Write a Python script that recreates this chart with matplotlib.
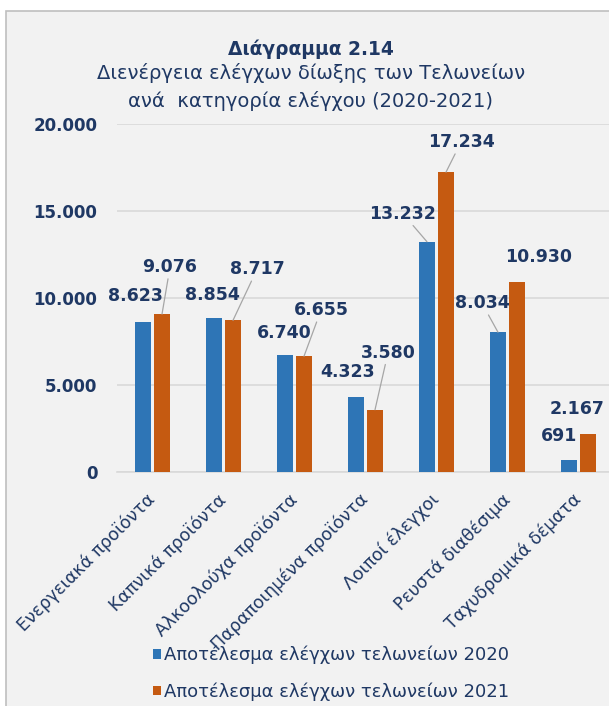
import matplotlib
matplotlib.use("Agg")
import matplotlib.pyplot as plt
from matplotlib.patches import Rectangle

categories = [
    "Ενεργειακά προϊόντα",
    "Καπνικά προϊόντα",
    "Αλκοολούχα προϊόντα",
    "Παραποιημένα προϊόντα",
    "Λοιποί έλεγχοι",
    "Ρευστά διαθέσιμα",
    "Ταχυδρομικά δέματα",
]
values_2020 = [8623, 8854, 6740, 4323, 13232, 8034, 691]
values_2021 = [9076, 8717, 6655, 3580, 17234, 10930, 2167]
yticks = [0, 5000, 10000, 15000, 20000]
series_names = [
    "Αποτέλεσμα ελέγχων τελωνείων 2020",
    "Αποτέλεσμα ελέγχων τελωνείων 2021",
]
title_lines = [
    "Διάγραμμα 2.14",
    "Διενέργεια ελέγχων δίωξης των Τελωνείων",
    "ανά  κατηγορία ελέγχου (2020-2021)",
]

# label offsets from bar top (pixels, right / up) and whether a leader line is drawn
offsets_2020 = [(-8, 26), (-2, 23), (-1, 22), (-8, 25), (-24, 28), (-16, 29), (-10, 24)]
leaders_2020 = [False, False, False, False, True, True, False]
offsets_2021 = [(8, 47), (24, 51), (17, 46), (13, 57), (15, 30), (22, 25), (-11, 25)]
leaders_2021 = [True, True, True, True, True, False, False]

BLUE = "#2e75b6"
ORANGE = "#c55a11"
NAVY = "#1f3864"
GRID = "#d9d9d9"
W, H = 609, 706

fig = plt.figure(figsize=(W / 100, H / 100), dpi=100)
fig.patch.set_facecolor("white")
fig.patches.append(Rectangle((6 / W, -0.05), 1.1, 1 - 11 / H + 0.05,
                             transform=fig.transFigure, facecolor="#f2f2f2",
                             edgecolor="#bfbfbf", linewidth=1.2, zorder=-10))

ax = fig.add_axes([117 / W, 1 - 472 / H, 497 / W, 348 / H])
ax.set_facecolor("none")

x = list(range(len(categories)))
width = 0.225
off = 0.134
bars1 = ax.bar([i - off for i in x], values_2020, width, color=BLUE, label=series_names[0], zorder=3)
bars2 = ax.bar([i + off for i in x], values_2021, width, color=ORANGE, label=series_names[1], zorder=3)

ax.set_xlim(-0.5, len(categories) - 0.5)
ax.set_ylim(0, 20000)
ax.set_yticks(yticks)
ax.set_yticklabels([f"{v:,}".replace(",", ".") for v in yticks],
                   fontsize=12, fontweight="bold", color=NAVY)
ax.yaxis.grid(True, color=GRID, linewidth=1.2, zorder=0)
ax.tick_params(axis="y", length=0, pad=14)
ax.set_xticks(x)
ax.set_xticklabels(categories, rotation=45, ha="right", va="center",
                   rotation_mode="anchor", fontsize=12.5, color=NAVY)
ax.tick_params(axis="x", length=0, pad=18)
for side in ["top", "right", "left"]:
    ax.spines[side].set_visible(False)
ax.spines["bottom"].set_color(GRID)
ax.spines["bottom"].set_linewidth(1.2)


def label_bars(bars, values, offsets, leaders):
    for bar, v, (dx, dy), lead in zip(bars, values, offsets, leaders):
        xc = bar.get_x() + bar.get_width() / 2
        props = None
        if lead:
            props = dict(arrowstyle="-", color="#a6a6a6", lw=0.9, shrinkA=0, shrinkB=0)
        ax.annotate(f"{v:,}".replace(",", "."), (xc, v),
                    xytext=(dx * 0.72, dy * 0.72), textcoords="offset points",
                    ha="center", va="center", fontsize=12.5, fontweight="bold",
                    color=NAVY, arrowprops=props, zorder=4)


label_bars(bars1, values_2020, offsets_2020, leaders_2020)
label_bars(bars2, values_2021, offsets_2021, leaders_2021)

cx = 311 / W
fig.text(cx, 1 - 55 / H, title_lines[0], ha="center", va="baseline",
         fontsize=13.4, fontweight="bold", color=NAVY)
fig.text(cx, 1 - 79 / H, title_lines[1], ha="center", va="baseline",
         fontsize=14, color=NAVY)
fig.text(cx, 1 - 107 / H, title_lines[2], ha="center", va="baseline",
         fontsize=14, color=NAVY)

fig.legend(handles=[bars1, bars2], labels=series_names,
           loc="upper left", bbox_to_anchor=(153 / W, 1 - 646 / H),
           frameon=False, fontsize=13, labelcolor=NAVY,
           handlelength=0.45, handleheight=0.45, handletextpad=0.15,
           labelspacing=1.0, borderaxespad=0, borderpad=0)

fig.savefig("out.png", dpi=100)
